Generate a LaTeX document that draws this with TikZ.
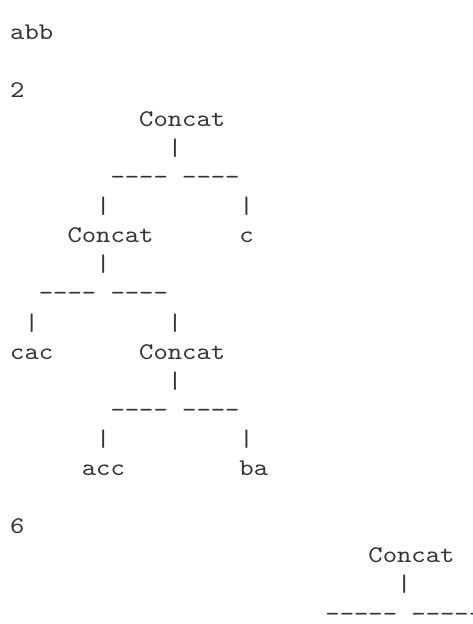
\documentclass[tikz,border=0pt]{standalone}
\usepackage{fontspec}
\newfontfamily\termfont{lmmono10-regular.otf}[FakeStretch=1.143]
\usetikzlibrary{positioning}
\definecolor{TermInk}{RGB}{51,51,51}
\tikzset{
  mono/.style={font=\termfont\fontsize{23.9}{29}\selectfont,text=TermInk,
    anchor=base west,inner sep=0pt,outer sep=0pt}
}

\begin{document}
\begin{tikzpicture}[x=14.33pt,y=-29.1pt]
  % one unit = one character cell, origin at the first baseline
  \useasboundingbox (-10.2pt,39pt) rectangle (461.8pt,-585pt);
  \clip (-10.2pt,39pt) rectangle (461.8pt,-585pt);

  \node[mono] (word) at (0,0) {abb};

  % first tree
  \node[mono] (cost1) at (0,2) {2};
  \node[mono] (root1) at (9,3) {Concat};
  \node[mono] (stem1) at (11,4) {|};
  \node[mono] (branchL1) at (7,5) {----};
  \node[mono] (branchR1) at (12,5) {----};
  \node[mono] (legL1) at (6,6) {|};
  \node[mono] (legR1) at (16,6) {|};
  \node[mono] (left1) at (4,7) {Concat};
  \node[mono] (leafC) at (16,7) {c};
  \node[mono] (stem2) at (6,8) {|};
  \node[mono] (branchL2) at (2,9) {----};
  \node[mono] (branchR2) at (7,9) {----};
  \node[mono] (legL2) at (1,10) {|};
  \node[mono] (legR2) at (11,10) {|};
  \node[mono] (leafCac) at (0,11) {cac};
  \node[mono] (right2) at (9,11) {Concat};
  \node[mono] (stem3) at (11,12) {|};
  \node[mono] (branchL3) at (7,13) {----};
  \node[mono] (branchR3) at (12,13) {----};
  \node[mono] (legL3) at (6,14) {|};
  \node[mono] (legR3) at (16,14) {|};
  \node[mono] (leafAcc) at (5,15) {acc};
  \node[mono] (leafBa) at (16,15) {ba};

  % second tree, runs off the right edge
  \node[mono] (cost2) at (0,17) {6};
  \node[mono] (root2) at (25,18) {Concat};
  \node[mono] (stem4) at (27,19) {|};
  \node[mono] (branchL4) at (22,20) {-----};
  \node[mono] (branchR4) at (28,20) {-----};
\end{tikzpicture}
\end{document}
